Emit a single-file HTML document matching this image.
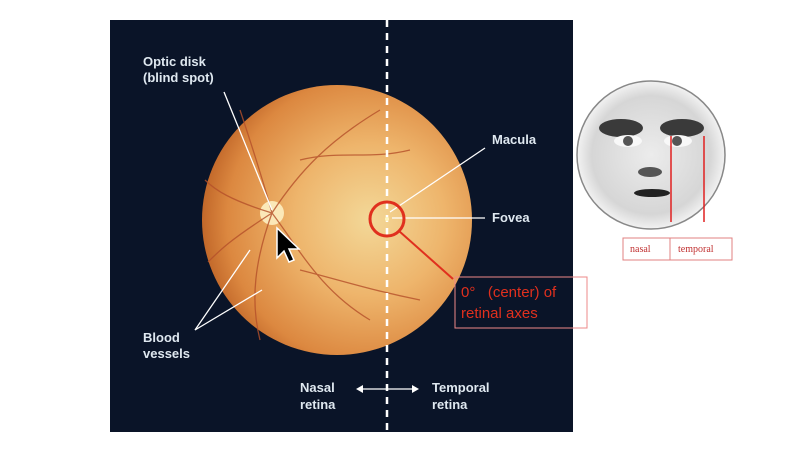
<!DOCTYPE html>
<html><head><style>
body{margin:0;width:790px;height:460px;background:#fff;overflow:hidden;font-family:"Liberation Sans",sans-serif}
</style></head><body>
<svg width="790" height="460" viewBox="0 0 790 460" xmlns="http://www.w3.org/2000/svg">
<defs>
<radialGradient id="ret" cx="0.62" cy="0.5" r="0.62">
<stop offset="0" stop-color="#f3d898"/>
<stop offset="0.45" stop-color="#eeb56c"/>
<stop offset="0.85" stop-color="#dc8840"/>
<stop offset="1" stop-color="#c2682a"/>
</radialGradient>
<radialGradient id="face" cx="0.5" cy="0.5" r="0.5">
<stop offset="0" stop-color="#ececec"/>
<stop offset="0.8" stop-color="#d6d6d6"/>
<stop offset="1" stop-color="#f2f2f2"/>
</radialGradient>
</defs>
<rect x="110" y="20" width="463" height="412" fill="#0a1428"/>
<circle cx="337" cy="220" r="135" fill="url(#ret)"/>
<circle cx="272" cy="213" r="12" fill="#fbe8b8"/>
<g stroke="#b5502a" stroke-width="1.3" fill="none" opacity="0.8">
<path d="M272 213 C300 170 330 140 380 110"/>
<path d="M272 213 C260 170 250 140 240 110"/>
<path d="M272 213 C300 250 320 290 370 320"/>
<path d="M272 213 C255 260 250 300 260 340"/>
<path d="M272 213 C230 200 215 190 205 180"/>
<path d="M272 213 C230 240 220 250 208 262"/>
<path d="M300 160 C340 150 370 160 410 150"/>
<path d="M300 270 C340 280 370 290 420 300"/>
</g>
<line x1="387" y1="20" x2="387" y2="432" stroke="#fff" stroke-width="2.5" stroke-dasharray="7,6"/>
<g stroke="#fff" stroke-width="1.3">
<line x1="224" y1="92" x2="272" y2="210"/>
<line x1="195" y1="330" x2="250" y2="250"/>
<line x1="195" y1="330" x2="262" y2="290"/>
<line x1="390" y1="212" x2="485" y2="148"/>
<line x1="392" y1="218" x2="485" y2="218"/>
<line x1="360" y1="389" x2="415" y2="389"/>
</g>
<path d="M356 389 l7 -4 v8z M419 389 l-7 -4 v8z" fill="#fff"/>
<g fill="#dfe8f0" font-weight="bold" font-size="13">
<text x="143" y="66">Optic disk</text>
<text x="143" y="82">(blind spot)</text>
<text x="492" y="144">Macula</text>
<text x="492" y="222">Fovea</text>
<text x="143" y="342">Blood</text>
<text x="143" y="358">vessels</text>
<text x="300" y="392">Nasal</text>
<text x="300" y="409">retina</text>
<text x="432" y="392">Temporal</text>
<text x="432" y="409">retina</text>
</g>
<circle cx="387" cy="219" r="17" fill="none" stroke="#e0301e" stroke-width="3"/>
<circle cx="387" cy="219" r="2" fill="#fff6c0"/>
<line x1="399" y1="231" x2="453" y2="279" stroke="#e0301e" stroke-width="2"/>
<rect x="455" y="277" width="132" height="51" fill="none" stroke="#e88" stroke-width="1"/>
<g fill="#e0301e" font-size="15">
<text x="461" y="297">0°&#160;&#160;&#160;(center) of</text>
<text x="461" y="318">retinal axes</text>
</g>
<path d="M277 228 v30 l7 -7 l5 11 l5 -2 l-5 -11 h10z" fill="#000" stroke="#fff" stroke-width="1.5"/>
<circle cx="651" cy="155" r="74" fill="url(#face)" stroke="#888" stroke-width="1.5"/>
<g fill="#444">
<ellipse cx="621" cy="128" rx="22" ry="9" fill="#3a3a3a"/>
<ellipse cx="682" cy="128" rx="22" ry="9" fill="#3a3a3a"/>
<ellipse cx="628" cy="141" rx="14" ry="6" fill="#f8f8f8"/>
<ellipse cx="678" cy="141" rx="14" ry="6" fill="#f8f8f8"/>
<circle cx="628" cy="141" r="5" fill="#555"/>
<circle cx="677" cy="141" r="5" fill="#555"/>
<ellipse cx="650" cy="172" rx="12" ry="5" fill="#555"/>
<ellipse cx="652" cy="193" rx="18" ry="4" fill="#222"/>
</g>
<line x1="671" y1="136" x2="671" y2="222" stroke="#e02020" stroke-width="1.5"/>
<line x1="704" y1="136" x2="704" y2="222" stroke="#e02020" stroke-width="1.5"/>
<rect x="623" y="238" width="109" height="22" fill="#fff" stroke="#e08080" stroke-width="1"/>
<line x1="670" y1="238" x2="670" y2="260" stroke="#e08080"/>
<g fill="#c03030" font-family="Liberation Serif,serif" font-size="10">
<text x="630" y="252">nasal</text>
<text x="678" y="252">temporal</text>
</g>
</svg>
</body></html>
